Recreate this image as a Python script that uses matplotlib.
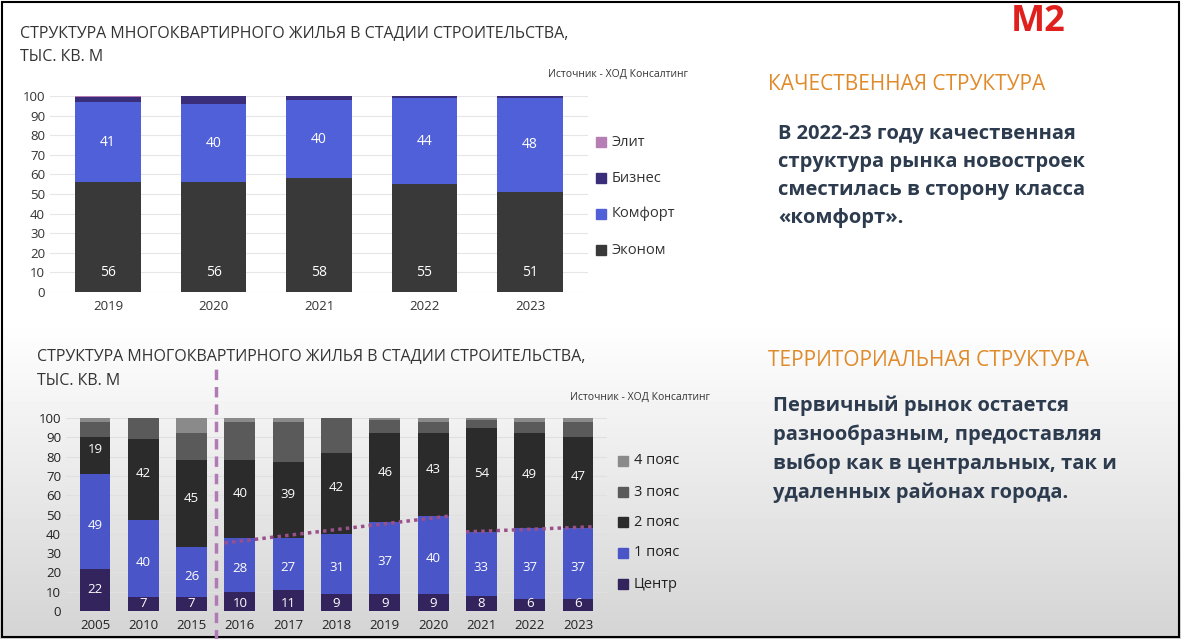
import matplotlib
matplotlib.use("Agg")
import matplotlib.pyplot as plt
import numpy as np
from matplotlib.patches import Rectangle

plt.rcParams["font.family"] = "Open Sans"

# ---- top chart data ----
years_top = ["2019", "2020", "2021", "2022", "2023"]
econom = [56, 56, 58, 55, 51]
comfort = [41, 40, 40, 44, 48]
business = [2.5, 4, 2, 1, 1]
elite = [0.5, 0, 0, 0, 0]

# ---- bottom chart data ----
years_bot = ["2005", "2010", "2015", "2016", "2017", "2018", "2019", "2020", "2021", "2022", "2023"]
center = [22, 7, 7, 10, 11, 9, 9, 9, 8, 6, 6]
belt1 = [49, 40, 26, 28, 27, 31, 37, 40, 33, 37, 37]
belt2 = [19, 42, 45, 40, 39, 42, 46, 43, 54, 49, 47]
belt3 = [8, 11, 14, 20, 21, 18, 7, 6, 4, 6, 8]
belt4 = [2, 0, 8, 2, 2, 0, 1, 2, 1, 2, 2]

W, H = 1181, 639
fig = plt.figure(figsize=(W/100, H/100), dpi=100)

# background
bg = fig.add_axes([0, 0, 1, 1], zorder=-10)
grad = np.ones((H, 1))
for i in range(H):
    t = (i - 320) / (H - 320)
    grad[i, 0] = 1.0 if t < 0 else 1.0 - 0.17 * t
bg.imshow(np.repeat(grad, 4, axis=1), cmap="gray", vmin=0, vmax=1, aspect="auto", extent=[0, 1, 1, 0])
bg.set_xlim(0, 1); bg.set_ylim(1, 0); bg.axis("off")
bg.add_patch(Rectangle((0.002, 0.003), 0.996, 0.994, fill=False, ec="black", lw=1.5, transform=bg.transAxes))

def px(x, y):
    return x / W, 1 - y / H

C_EC, C_CO, C_BU, C_EL = "#393939", "#5060d8", "#3a2d7a", "#b57fb5"
B_C, B_1, B_2, B_3, B_4 = "#33245e", "#4a55c8", "#2b2b2b", "#5a5a5a", "#8a8a8a"

# ---- top chart ----
ax1 = fig.add_axes([50/W, 1-292/H, 538/W, 196/H])
x = np.arange(len(years_top))
wd = 0.62
b0 = np.zeros(len(x))
for vals, col in [(econom, C_EC), (comfort, C_CO), (business, C_BU), (elite, C_EL)]:
    ax1.bar(x, vals, wd, bottom=b0, color=col, zorder=2)
    b0 += np.array(vals)
for i in range(len(x)):
    ax1.text(x[i], 10, str(econom[i]), ha="center", va="center", color="white", fontsize=10)
    ax1.text(x[i], econom[i] + comfort[i] / 2, str(comfort[i]), ha="center", va="center", color="white", fontsize=10)
ax1.set_xlim(-0.55, 4.55); ax1.set_ylim(0, 100)
ax1.set_yticks(range(0, 101, 10))
ax1.set_xticks(x, years_top)
ax1.grid(axis="y", color="#e6e6e6", lw=0.8, zorder=0)
for s in ax1.spines.values(): s.set_visible(False)
ax1.tick_params(length=0, labelsize=9.5, colors="#333333")
ax1.tick_params(axis="x", pad=6)
ax1.set_facecolor("none")

fig.text(*px(20, 33), "СТРУКТУРА МНОГОКВАРТИРНОГО ЖИЛЬЯ В СТАДИИ СТРОИТЕЛЬСТВА,", fontsize=11.5, color="#333333", va="center")
fig.text(*px(20, 57), "ТЫС. КВ. М", fontsize=11.5, color="#333333", va="center")
fig.text(*px(688, 74), "Источник - ХОД Консалтинг", fontsize=7.5, color="#333333", va="center", ha="right")
for lab, col, yp in [("Элит", C_EL, 142), ("Бизнес", C_BU, 178), ("Комфорт", C_CO, 214), ("Эконом", C_EC, 250)]:
    fig.patches.append(Rectangle(px(596, yp + 5), 10/W, 10/H, color=col, transform=fig.transFigure))
    fig.text(*px(612, yp), lab, fontsize=10.5, color="#333333", va="center")

# ---- bottom chart ----
ax2 = fig.add_axes([66/W, 1-611/H, 541/W, 193/H])
x2 = np.arange(len(years_bot))
wd2 = 0.64
b0 = np.zeros(len(x2))
for vals, col in [(center, B_C), (belt1, B_1), (belt2, B_2), (belt3, B_3), (belt4, B_4)]:
    ax2.bar(x2, vals, wd2, bottom=b0, color=col, zorder=2)
    b0 += np.array(vals)
for i in range(len(x2)):
    ax2.text(x2[i], center[i] / 2 if center[i] > 12 else 4, str(center[i]), ha="center", va="center", color="white", fontsize=9.5, zorder=5)
    ax2.text(x2[i], center[i] + belt1[i] / 2 - 2, str(belt1[i]), ha="center", va="center", color="white", fontsize=9.5, zorder=5)
    ax2.text(x2[i], center[i] + belt1[i] + belt2[i] / 2 + 3, str(belt2[i]), ha="center", va="center", color="white", fontsize=9.5, zorder=5)
top1 = np.array(center) + np.array(belt1)
for a, b in [(3, 7), (8, 10)]:
    xs = x2[a:b+1]; ys = top1[a:b+1]
    k, c = np.polyfit(xs, ys, 1)
    xl = np.array([xs[0] - wd2/2, xs[-1] + wd2/2])
    ax2.plot(xl, k * xl + c, ls=(0, (1, 1.2)), color="#9a4f8a", lw=2.5, zorder=4)
ax2.plot([2.5, 2.5], [-15, 128], ls=(0, (3, 2)), color="#b07ab5", lw=2.5, clip_on=False, zorder=6)
ax2.set_xlim(-0.6, 10.6); ax2.set_ylim(0, 100)
ax2.set_yticks(range(0, 101, 10))
ax2.set_xticks(x2, years_bot)
ax2.grid(axis="y", color="#e0e0e0", lw=0.8, zorder=0)
for s in ax2.spines.values(): s.set_visible(False)
ax2.tick_params(length=0, labelsize=9.5, colors="#222222")
ax2.tick_params(axis="x", pad=6)
ax2.set_facecolor("none")

fig.text(*px(37, 356), "СТРУКТУРА МНОГОКВАРТИРНОГО ЖИЛЬЯ В СТАДИИ СТРОИТЕЛЬСТВА,", fontsize=11.5, color="#333333", va="center")
fig.text(*px(37, 381), "ТЫС. КВ. М", fontsize=11.5, color="#333333", va="center")
fig.text(*px(710, 397), "Источник - ХОД Консалтинг", fontsize=7.5, color="#333333", va="center", ha="right")
for lab, col, yp in [("4 пояс", B_4, 461), ("3 пояс", B_3, 492), ("2 пояс", B_2, 522), ("1 пояс", B_1, 553), ("Центр", B_C, 584)]:
    fig.patches.append(Rectangle(px(618, yp + 5), 10/W, 10/H, color=col, transform=fig.transFigure))
    fig.text(*px(634, yp), lab, fontsize=10.5, color="#222222", va="center")

# ---- right texts ----
fig.text(*px(1038, 22), "М2", fontsize=26, fontweight="bold", color="#e0201c", ha="center", va="center")
fig.text(*px(768, 85), "КАЧЕСТВЕННАЯ СТРУКТУРА", fontsize=15, color="#e08a2a", va="center")
fig.text(*px(778, 176), "В 2022-23 году качественная\nструктура рынка новостроек\nсместилась в сторону класса\n«комфорт».",
         fontsize=14.5, fontweight="bold", color="#2d3b4e", va="center", linespacing=1.55)
fig.text(*px(768, 360), "ТЕРРИТОРИАЛЬНАЯ СТРУКТУРА", fontsize=15, color="#e08a2a", va="center")
fig.text(*px(773, 449), "Первичный рынок остается\nразнообразным, предоставляя\nвыбор как в центральных, так и\nудаленных районах города.",
         fontsize=14.5, fontweight="bold", color="#2d3b4e", va="center", linespacing=1.55)

fig.savefig("out.png", dpi=100)
